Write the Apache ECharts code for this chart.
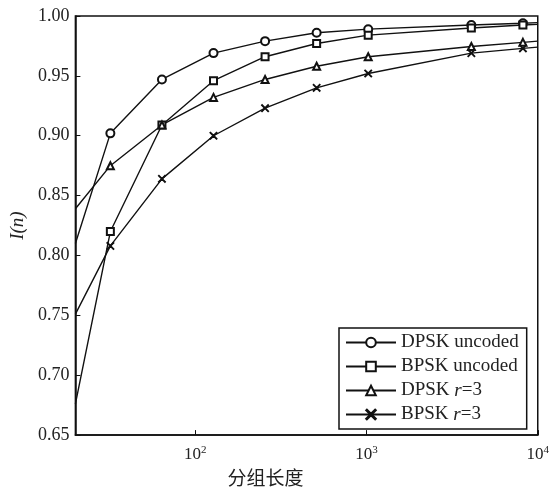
<!DOCTYPE html>
<html>
<head>
<meta charset="utf-8">
<script src="https://cdn.jsdelivr.net/npm/echarts@6/dist/echarts.min.js"></script>
<style>
html,body{margin:0;padding:0;background:#fff;}
#main{width:552px;height:492px;}
</style>
</head>
<body>
<div id="main"></div>
<script>
// packet length (x); first/last entries sit on the plot edges
var lengths = [20, 32, 64, 128, 256, 512, 1024, 4096, 8192, 10000];
var dpskUncoded = [0.810, 0.902, 0.947, 0.969, 0.979, 0.986, 0.989, 0.9925, 0.994, 0.9945];
var bpskUncoded = [0.676, 0.820, 0.909, 0.946, 0.966, 0.977, 0.984, 0.990, 0.9925, 0.993];
var dpskR3 = [0.839, 0.875, 0.909, 0.932, 0.947, 0.958, 0.966, 0.9745, 0.978, 0.979];
var bpskR3 = [0.751, 0.808, 0.864, 0.900, 0.923, 0.940, 0.952, 0.969, 0.973, 0.974];
var seriesNames = ['DPSK uncoded', 'BPSK uncoded', 'DPSK r=3', 'BPSK r=3'];

var crossPath = 'path://M0,0.7L0.7,0L5,4.3L9.3,0L10,0.7L5.7,5L10,9.3L9.3,10L5,5.7L0.7,10L0,9.3L4.3,5Z';
var serif = '"Liberation Serif","DejaVu Serif",serif';

function pairs(ys){
	var out = [];
	for (var i = 0; i < lengths.length; i++) {
		var item = {value: [lengths[i], ys[i]]};
		if (i == 0 || i == lengths.length - 1) {
			item.symbol = 'none';
		}
		out.push(item);
	}
	return out;
}

function makeSeries(name, ys, symbol, size){
	return {
		name: name,
		type: 'line',
		data: pairs(ys),
		symbol: symbol,
		symbolSize: size,
		showAllSymbol: true,
		clip: true,
		lineStyle: {color: '#111', width: 1.4},
		itemStyle: {color: '#111', borderColor: '#111', borderWidth: 1.2},
		emphasis: {disabled: true}
	};
}

var chart = echarts.init(document.getElementById('main'));
var option = {
	backgroundColor: '#fff',
	animation: false,
	grid: {
		left: 74, top: 16, right: 12, bottom: 55,
		show: true, borderColor: '#111', borderWidth: 1.5
	},
	legend: {
		orient: 'vertical',
		left: 339, top: 328,
		padding: [5, 8, 5, 6],
		itemGap: 5,
		itemWidth: 50,
		itemHeight: 12,
		borderColor: '#111',
		borderWidth: 1.5,
		backgroundColor: '#fff',
		data: seriesNames,
		formatter: function(name){
			return name.replace('r=3', '{i|r}=3');
		},
		textStyle: {
			fontFamily: serif, fontSize: 19, color: '#222',
			rich: {i: {fontFamily: serif, fontSize: 19, fontStyle: 'italic', color: '#222'}}
		}
	},
	xAxis: {
		type: 'log',
		logBase: 10,
		min: 20,
		max: 10000,
		name: '分组长度',
		nameLocation: 'middle',
		nameGap: 30,
		nameTextStyle: {fontFamily: '"Noto Sans CJK SC"', fontSize: 19, color: '#222', padding: [0, 82, 0, 0]},
		axisLine: {lineStyle: {color: '#111', width: 1.5}},
		axisTick: {inside: true, length: 5, lineStyle: {color: '#111'}},
		splitLine: {show: false},
		minorTick: {show: false},
		axisLabel: {
			margin: 10,
			showMinLabel: false,
			fontFamily: serif, fontSize: 17, color: '#222',
			formatter: function(v){
				var e = Math.round(Math.log(v) / Math.LN10);
				if (Math.abs(Math.pow(10, e) - v) > 1e-6 * v) return '';
				return '10{sup|' + e + '}';
			},
			rich: {sup: {fontFamily: serif, fontSize: 11, color: '#222', verticalAlign: 'top', padding: [0, 0, 8, 0]}}
		}
	},
	yAxis: {
		type: 'value',
		min: 0.65,
		max: 1.0,
		interval: 0.05,
		name: 'I(n)',
		nameLocation: 'middle',
		nameGap: 48,
		nameTextStyle: {fontFamily: serif, fontSize: 19, fontStyle: 'italic', color: '#222'},
		axisLine: {show: true, lineStyle: {color: '#111', width: 1.5}},
		axisTick: {show: true, inside: true, length: 5, lineStyle: {color: '#111'}},
		splitLine: {show: false},
		axisLabel: {
			margin: 6,
			fontFamily: serif, fontSize: 18, color: '#222',
			formatter: function(v){ return v.toFixed(2); }
		}
	},
	series: [
		makeSeries(seriesNames[0], dpskUncoded, 'emptyCircle', 8),
		makeSeries(seriesNames[1], bpskUncoded, 'emptyRect', 7),
		makeSeries(seriesNames[2], dpskR3, 'emptyTriangle', 7),
		makeSeries(seriesNames[3], bpskR3, crossPath, 7)
	]
};
chart.setOption(option);
</script>
</body>
</html>
